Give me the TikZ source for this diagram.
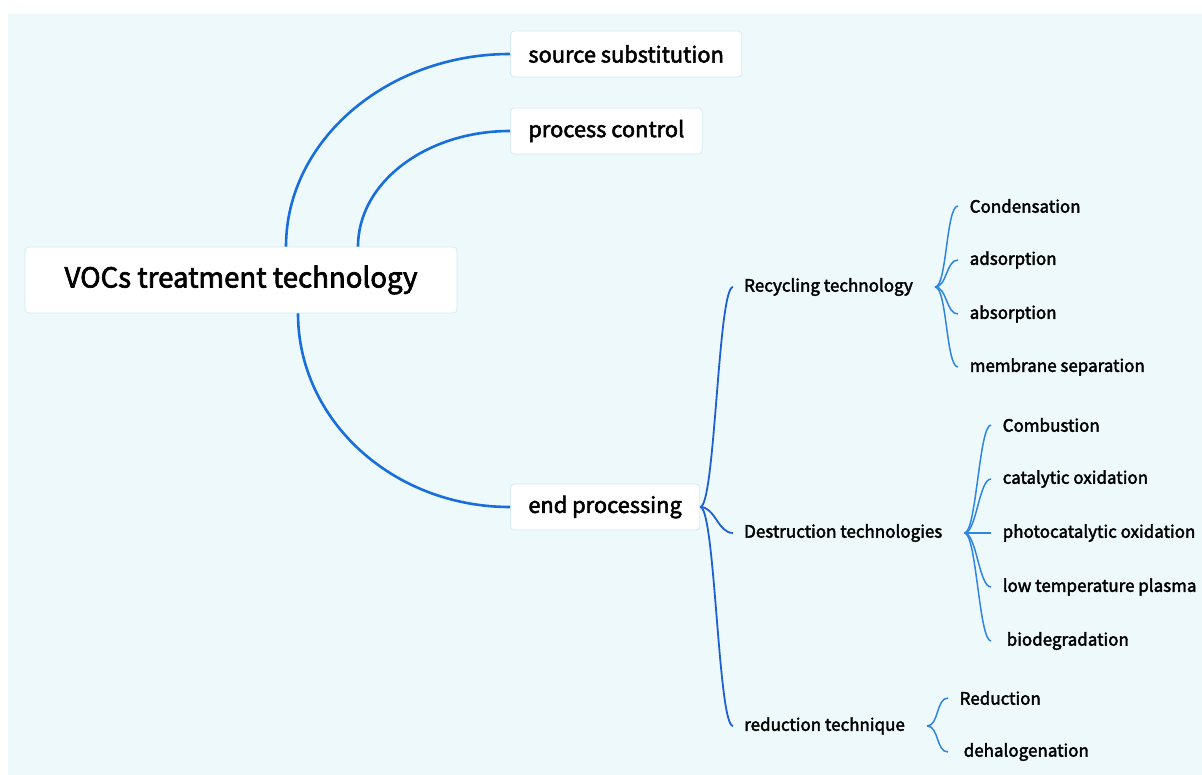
\documentclass[tikz,border=0pt]{standalone}
\usepackage{fontspec}
\setmainfont{Noto Sans CJK SC}[FakeBold=2.4]
\definecolor{bgblue}{RGB}{238,249,252}
\definecolor{boxline}{RGB}{214,234,243}
\definecolor{trunkblue}{RGB}{24,110,218}
\definecolor{limbblue}{RGB}{30,95,212}
\definecolor{twigblue}{RGB}{46,134,226}
\begin{document}
\begin{tikzpicture}[x=1pt, y=-1pt,
  box/.style={draw=boxline, line width=0.8pt, fill=white, rounded corners=4pt},
  topic/.style={box, anchor=west, inner xsep=18pt, minimum height=46pt, font=\fontsize{21.8}{24}\selectfont},
  sub/.style={anchor=west, inner xsep=11pt, font=\fontsize{17}{19}\selectfont},
  leaf/.style={anchor=west, inner xsep=11.5pt, font=\fontsize{17}{19}\selectfont},
  trunk/.style={draw=trunkblue, line width=2.6pt},
  limb/.style={draw=limbblue, line width=1.8pt, to path={.. controls +(15,0) and +(-15,0) .. (\tikztotarget)}},
  twig/.style={draw=twigblue, line width=1.5pt, to path={.. controls +(12,0) and +(-12,0) .. (\tikztotarget)}}]
\useasboundingbox (0,0) rectangle (1202,775);
\fill[white] (0,0) rectangle (1202,775);
\fill[bgblue] (8,14) rectangle (1202,775);
% root and first level
\node[box, minimum width=432pt, minimum height=66pt, font=\fontsize{27.6}{32}\selectfont] (voc) at (241,280) {VOCs treatment technology};
\node[topic] (src) at (510,54) {source substitution};
\node[topic] (ctl) at (510,131) {process control};
\node[topic] (endp) at (510,507) {end processing};
% second level
\node[sub] (rec) at (733,287) {Recycling technology};
\node[sub] (des) at (733,533) {Destruction technologies};
\node[sub] (red) at (733,726) {reduction technique};
% leaves
\node[leaf] (cond) at (958,206) {Condensation};
\node[leaf] (ads) at (958,260) {adsorption};
\node[leaf] (abs) at (958,314) {absorption};
\node[leaf] (mem) at (958,367) {membrane separation};
\node[leaf] (comb) at (991,425) {Combustion};
\node[leaf] (cat) at (991,479) {catalytic oxidation};
\node[leaf] (photo) at (991,533) {photocatalytic oxidation};
\node[leaf] (plas) at (991,587) {low temperature plasma};
\node[leaf, inner xsep=15.5pt] (bio) at (991,641) {biodegradation};
\node[leaf] (redn) at (948,698) {Reduction};
\node[leaf, inner xsep=15.5pt] (dehal) at (948,752) {dehalogenation};
% connectors
\draw[trunk] ([xshift=45pt]voc.north) .. controls +(0,-106) and +(-123,0) .. (src.west);
\draw[trunk] ([xshift=117pt]voc.north) .. controls +(0,-64) and +(-84,0) .. (ctl.west);
\draw[trunk] ([xshift=57pt]voc.south) .. controls +(0,107) and +(-117,0) .. (endp.west);
\path[limb] (endp.east) edge (rec.west) edge (des.west) edge (red.west);
\path[twig] ([xshift=11pt]rec.east) edge (cond.west) edge (ads.west) edge (abs.west) edge (mem.west);
\path[twig] ([xshift=11pt]des.east) edge (comb.west) edge (cat.west) edge (photo.west) edge (plas.west) edge (bio.west);
\path[twig] ([xshift=11pt]red.east) edge (redn.west) edge (dehal.west);
\end{tikzpicture}
\end{document}
